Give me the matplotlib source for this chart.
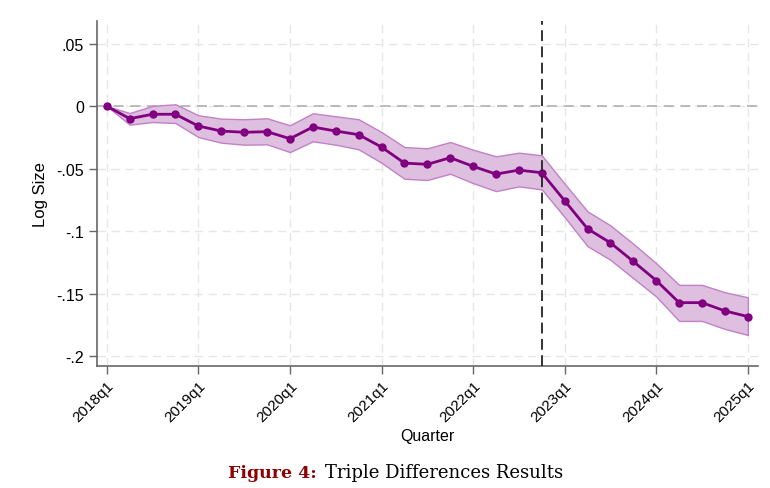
import numpy as np
import matplotlib.pyplot as plt

# quarters since 2018q1
quarter_idx = list(range(29))
tick_pos = [0, 4, 8, 12, 16, 20, 24, 28]
tick_labels = ["2018q1", "2019q1", "2020q1", "2021q1", "2022q1", "2023q1", "2024q1", "2025q1"]
treat_quarter = 19  # 2022q4

coef = [0.0, -0.0100, -0.0065, -0.0065, -0.0159, -0.0199, -0.0209, -0.0204, -0.0260, -0.0167,
        -0.0199, -0.0228, -0.0327, -0.0455, -0.0465, -0.0412, -0.0481, -0.0543, -0.0511, -0.0532,
        -0.0756, -0.0980, -0.1092, -0.1241, -0.1393, -0.1570, -0.1570, -0.1636, -0.1681]
ci_hi = [0.0, -0.0055, 0.0002, 0.0015, -0.0073, -0.0100, -0.0105, -0.0097, -0.0153, -0.0057,
         -0.0081, -0.0105, -0.0207, -0.0327, -0.0337, -0.0287, -0.0348, -0.0401, -0.0372, -0.0393,
         -0.0620, -0.0841, -0.0953, -0.1100, -0.1255, -0.1428, -0.1428, -0.1487, -0.1527]
ci_lo = [0.0, -0.0148, -0.0127, -0.0135, -0.0247, -0.0292, -0.0308, -0.0305, -0.0367, -0.0281,
         -0.0308, -0.0345, -0.0452, -0.0580, -0.0590, -0.0540, -0.0615, -0.0679, -0.0641, -0.0665,
         -0.0887, -0.1119, -0.1228, -0.1375, -0.1521, -0.1716, -0.1716, -0.1780, -0.1828]
yticks = [0.05, 0, -0.05, -0.1, -0.15, -0.2]
ytick_labels = [".05", "0", "-.05", "-.1", "-.15", "-.2"]

plt.rcParams['font.family'] = ['Liberation Sans', 'DejaVu Sans']

fig = plt.figure(figsize=(7.7, 4.89), dpi=100)
ax = fig.add_axes([0.1256, 0.250, 0.8584, 0.705])

ax.fill_between(quarter_idx, ci_lo, ci_hi, facecolor=(0.87, 0.75, 0.88), edgecolor=(0.76, 0.5, 0.78),
                linewidth=1.0, zorder=2)
ax.plot(quarter_idx, coef, color="#800080", lw=2, marker="o", ms=5, zorder=4)
ax.axhline(0, color="#b0b0b0", ls=(0, (6, 4)), lw=1.2, zorder=1)
ax.axvline(treat_quarter, color="#222222", ls=(0, (6, 3)), lw=1.3, zorder=5)

ax.set_xlim(-0.44, 28.43)
ax.set_ylim(-0.2074, 0.068)
ax.set_xticks(tick_pos)
ax.set_xticklabels(tick_labels, rotation=45, ha="right", rotation_mode="anchor", fontsize=11)
ax.set_yticks(yticks)
ax.set_yticklabels(ytick_labels, fontsize=11.5)
ax.grid(True, color="#e6e6e6", ls=(0, (6, 4)), lw=1.0, zorder=0)
ax.set_axisbelow(True)

for s in ["top", "right"]:
    ax.spines[s].set_visible(False)
for s in ["left", "bottom"]:
    ax.spines[s].set_color("#666666")
    ax.spines[s].set_linewidth(1.2)
ax.tick_params(direction="out", length=6, color="#666666", width=1.0, pad=3)

ax.set_xlabel("Quarter", fontsize=11.5, labelpad=3)
ax.set_ylabel("Log Size", fontsize=12, labelpad=6)

fig.text(227.7 / 770, 1 - 478 / 489, "Figure 4:", color="#8b0000", fontweight="bold", fontsize=12.5,
         family="DejaVu Serif", ha="left", va="baseline")
fig.text(563 / 770, 1 - 478 / 489, "Triple Differences Results", color="black", fontsize=13,
         family="DejaVu Serif", ha="right", va="baseline")

fig.savefig("out.png", dpi=100)
